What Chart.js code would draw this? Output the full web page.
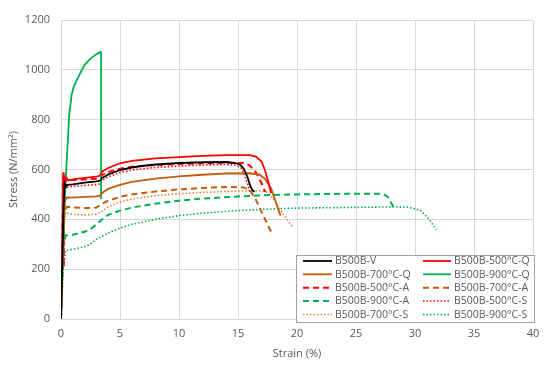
<!DOCTYPE html>
<html>
<head>
<meta charset="utf-8">
<script src="https://cdn.jsdelivr.net/npm/chart.js@4.4.1/dist/chart.umd.min.js"></script>
<style>
html,body{margin:0;padding:0;background:#fff;}
#wrap{width:550px;height:368px;position:relative;}
</style>
</head>
<body>
<div id="wrap"><canvas id="c" width="550" height="368"></canvas></div>
<script>
// Tick values
const xTicks = [0,5,10,15,20,25,30,35,40];
const yTicks = [0,200,400,600,800,1000,1200];

// Series: [strain %, stress N/mm2]
const B500B_V = [[0,0],[0.1,200],[0.2,420],[0.3,545],[0.4,530],[0.5,538],[1,540],[2,547],[3,552],[3.3,555],[3.5,566],[4,580],[5,598],[6,608],[7,615],[8,620],[10,626],[12,629],[14,630],[14.8,626],[15.2,618],[15.5,602],[15.8,570],[16.0,540],[16.2,518],[16.4,510]];
const B500B_500Q = [[0,0],[0.1,250],[0.18,520],[0.22,590],[0.26,545],[0.3,575],[0.35,550],[0.45,565],[0.6,556],[1,560],[2,566],[3,571],[3.3,576],[3.5,592],[4,606],[5,625],[6,635],[8,645],[10,650],[12,655],[14,658],[16,658],[16.5,652],[17,632],[17.3,595],[17.6,545],[17.8,505]];
const B500B_700Q = [[0,0],[0.15,300],[0.3,470],[0.5,488],[1,487],[2,490],[3,492],[3.3,495],[3.6,510],[4,522],[5,538],[6,550],[8,563],[10,572],[12,579],[14,584],[16,585],[16.8,580],[17.3,562],[17.8,525],[18.2,470],[18.6,415]];
const B500B_900Q = [[0,0],[0.15,250],[0.3,450],[0.5,650],[0.7,820],[0.9,900],[1.1,935],[1.5,975],[2,1020],[2.5,1045],[3,1063],[3.35,1072],[3.4,1070],[3.4,482]];
const B500B_500A = [[0,0],[0.12,330],[0.17,560],[0.2,585],[0.23,210],[0.26,540],[0.3,575],[0.35,545],[0.45,568],[0.6,555],[1,558],[2,560],[3,563],[3.3,565],[3.5,578],[4,590],[5,603],[6,611],[8,618],[10,622],[12,625],[14,627],[15.4,626],[16,616],[16.5,590],[17,545],[17.3,510]];
const B500B_700A = [[0,0],[0.15,300],[0.3,430],[0.5,450],[1,448],[2,445],[3,447],[3.4,460],[4,475],[5,490],[6,500],[8,512],[10,520],[12,526],[14,530],[15.5,528],[16,518],[16.5,480],[17,430],[17.5,380],[17.8,350]];
const B500B_900A = [[0,0],[0.2,300],[0.4,335],[1,338],[2,350],[2.5,360],[3,380],[3.5,400],[4,418],[5,435],[6,447],[8,463],[10,475],[12,483],[15,492],[18,498],[20,500],[23,502],[26,503],[27.3,502],[27.7,490],[28,465],[28.2,445]];
const B500B_500S = [[0,0],[0.1,220],[0.2,450],[0.3,540],[0.4,525],[0.6,530],[1,532],[2,536],[3,540],[3.3,542],[3.5,556],[4,570],[5,588],[6,598],[8,608],[10,614],[12,618],[14,620],[14.8,617],[15.3,605],[15.6,570],[15.9,530],[16.0,512]];
const B500B_700S = [[0,0],[0.15,300],[0.3,405],[0.4,428],[0.5,425],[1,420],[2,418],[3,420],[3.4,430],[4,450],[5,470],[6,482],[8,495],[10,503],[12,508],[14,512],[16,515],[17,515],[17.5,508],[18,482],[18.5,445],[19,410],[19.6,370]];
const B500B_900S = [[0,0],[0.2,200],[0.4,275],[1,280],[2,290],[2.5,300],[3,320],[4,345],[5,365],[6,380],[8,400],[10,415],[12,425],[15,435],[18,442],[20,445],[25,448],[28,450],[29.5,448],[30.5,435],[31.2,400],[31.8,358]];

const seriesNames = ['B500B-V','B500B-500°C-Q','B500B-700°C-Q','B500B-900°C-Q','B500B-500°C-A','B500B-700°C-A','B500B-900°C-A','B500B-500°C-S','B500B-700°C-S','B500B-900°C-S'];
const seriesData = [B500B_V,B500B_500Q,B500B_700Q,B500B_900Q,B500B_500A,B500B_700A,B500B_900A,B500B_500S,B500B_700S,B500B_900S];
const seriesColors = ['#000000','#FF0000','#C55A11','#00B050','#FF0000','#C55A11','#00B050','#FF0000','#ED7D31','#00B050'];
const seriesDash = [[],[],[],[],[6,4],[6,4],[6,4],[1.5,2],[1.5,2],[1.5,2]];
const seriesWidth = [1.8,1.8,1.8,1.8,2,2,2,1.6,1.6,1.6];

const datasets = seriesData.map((d,i)=>({
  label: seriesNames[i],
  data: d.map(p=>({x:p[0],y:p[1]})),
  showLine: true,
  borderColor: seriesColors[i],
  backgroundColor: seriesColors[i],
  borderWidth: seriesWidth[i],
  borderDash: seriesDash[i],
  pointRadius: 0,
  tension: 0,
  fill: false
}));

const FONT = 'Open Sans, Lato, sans-serif';
const TXT = '#595959';

const legendPlugin = {
  id: 'boxLegend',
  afterDraw(chart){
    const ctx = chart.ctx;
    const x0 = 296, y0 = 255, w = 238, h = 67;
    ctx.save();
    ctx.fillStyle = '#fff';
    ctx.fillRect(x0, y0, w, h);
    ctx.strokeStyle = '#404040';
    ctx.lineWidth = 1;
    ctx.setLineDash([1,1]);
    ctx.strokeRect(x0+0.5, y0+0.5, w, h);
    const rows = [261, 274.3, 287.7, 301, 314.5];
    const cols = [[303,332,335],[423,451,454]];
    chart.data.datasets.forEach((ds,i)=>{
      const r = Math.floor(i/2), c = i%2;
      const y = rows[r];
      ctx.strokeStyle = ds.borderColor;
      ctx.lineWidth = ds.borderWidth;
      ctx.setLineDash(ds.borderDash);
      ctx.beginPath();
      ctx.moveTo(cols[c][0], y);
      ctx.lineTo(cols[c][1], y);
      ctx.stroke();
      ctx.setLineDash([]);
      ctx.fillStyle = TXT;
      ctx.font = '10.5px ' + FONT;
      ctx.textBaseline = 'middle';
      ctx.textAlign = 'left';
      ctx.fillText(ds.label, cols[c][2], y+0.5);
    });
    ctx.restore();
  }
};

new Chart(document.getElementById('c'), {
  type: 'scatter',
  data: { datasets },
  plugins: [legendPlugin],
  options: {
    responsive: false,
    animation: false,
    layout: { padding: { left: 0, right: 17, top: 20, bottom: 0 } },
    plugins: { legend: { display: false }, tooltip: { enabled: false } },
    scales: {
      x: {
        type: 'linear', min: 0, max: 40,
        afterBuildTicks(s){ s.ticks = xTicks.map(v=>({value:v})); },
        afterFit(s){ s.height = 49; },
        grid: { color: '#d9d9d9', lineWidth: 1, drawTicks: false },
        border: { color: '#d9d9d9' },
        ticks: { color: TXT, font: { family: FONT, size: 11 }, padding: 8, maxRotation: 0, callback: v => String(v) },
        title: { display: true, text: 'Strain (%)', color: TXT, font: { family: FONT, size: 11 }, padding: { top: 4, bottom: 8 } }
      },
      y: {
        type: 'linear', min: 0, max: 1200,
        afterBuildTicks(s){ s.ticks = yTicks.map(v=>({value:v})); },
        afterFit(s){ s.width = 61; },
        grid: { color: '#d9d9d9', lineWidth: 1, drawTicks: false },
        border: { color: '#d9d9d9' },
        ticks: { color: TXT, font: { family: FONT, size: 11 }, padding: 11, callback: v => String(v) },
        title: { display: true, text: 'Stress (N/mm²)', color: TXT, font: { family: FONT, size: 11 }, padding: { top: 7, bottom: 0 } }
      }
    }
  }
});
</script>
</body>
</html>
